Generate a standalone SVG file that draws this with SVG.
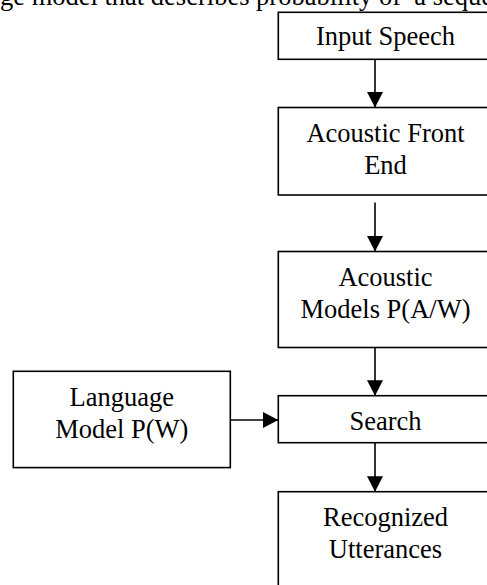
<svg xmlns="http://www.w3.org/2000/svg" width="487" height="585" viewBox="0 0 487 585">
<style>
.box{fill:#fff;stroke:#000;stroke-width:1.6}
.t{font-family:"Liberation Serif","Times New Roman",serif;font-size:26.5px;fill:#000;text-anchor:middle}
.hdr{font-family:"Liberation Serif","Times New Roman",serif;font-size:26.5px;fill:#000}
.c{stroke:#000;stroke-width:1.6;fill:none}
</style>
<defs>
<marker id="ah" markerUnits="userSpaceOnUse" markerWidth="17" markerHeight="17" refX="15.5" refY="8" orient="auto">
<path d="M0,0 L15.5,8 L0,16 z" fill="#000"/>
</marker>
</defs>
<text class="hdr" x="0" y="4.5" xml:space="preserve">ge model that describes probability of  a seque</text>
<g id="connectors">
<line class="c" x1="375" y1="59.3" x2="375" y2="107.5" marker-end="url(#ah)"/>
<line class="c" x1="375" y1="202.5" x2="375" y2="251.5" marker-end="url(#ah)"/>
<line class="c" x1="375" y1="347.5" x2="375" y2="395.7" marker-end="url(#ah)"/>
<line class="c" x1="375" y1="442.7" x2="375" y2="491.7" marker-end="url(#ah)"/>
<line class="c" x1="230.5" y1="420" x2="278.3" y2="420" marker-end="url(#ah)"/>
</g>
<g id="input-speech">
<rect class="box" x="278.3" y="12.3" width="220" height="47"/>
<text class="t" x="385.5" y="45">Input Speech</text>
</g>
<g id="acoustic-front-end">
<rect class="box" x="278.3" y="107.5" width="220" height="87.5"/>
<text class="t" x="385.5" y="142">Acoustic Front</text>
<text class="t" x="385.5" y="174">End</text>
</g>
<g id="acoustic-models">
<rect class="box" x="278.3" y="251.5" width="220" height="96"/>
<text class="t" x="385.5" y="286">Acoustic</text>
<text class="t" x="385.5" y="318">Models P(A/W)</text>
</g>
<g id="search">
<rect class="box" x="278.3" y="395.7" width="220" height="47"/>
<text class="t" x="385.5" y="429.5">Search</text>
</g>
<g id="recognized-utterances">
<rect class="box" x="278.3" y="491.7" width="220" height="120"/>
<text class="t" x="385.5" y="526">Recognized</text>
<text class="t" x="385.5" y="557.5">Utterances</text>
</g>
<g id="language-model">
<rect class="box" x="13.3" y="371.3" width="217" height="96.3"/>
<text class="t" x="121.8" y="406">Language</text>
<text class="t" x="121.8" y="437.5">Model P(W)</text>
</g>
</svg>
